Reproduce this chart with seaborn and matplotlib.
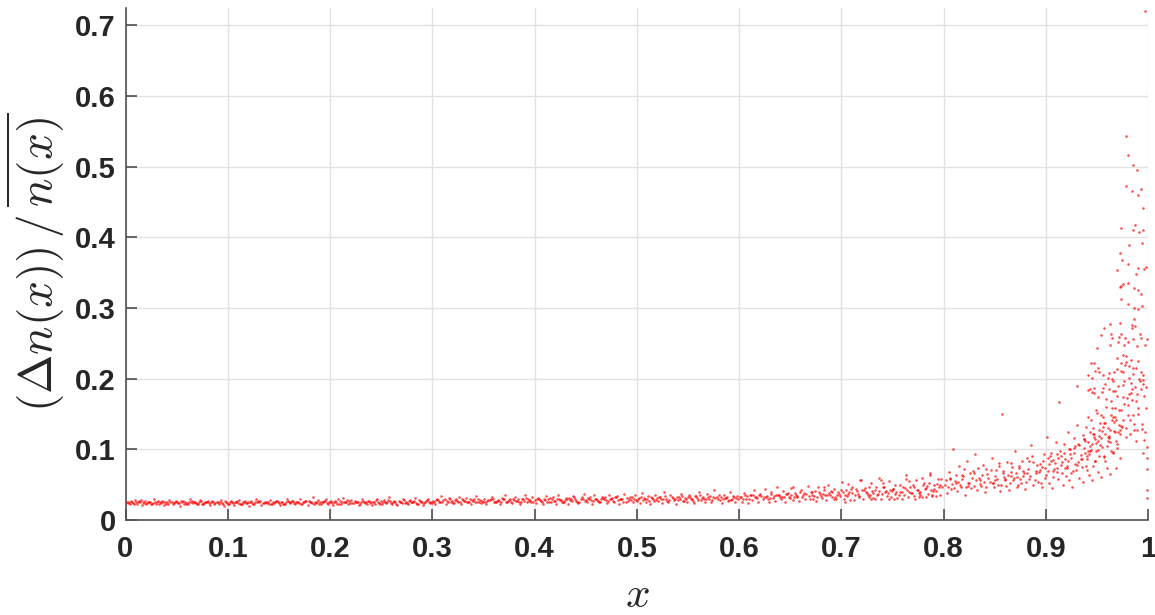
import matplotlib
matplotlib.use("Agg")
import matplotlib.pyplot as plt
import seaborn as sns
import pandas as pd

x_a = [.001,.004,.006,.009,.011,.014,.016,.019,.021,.024,.026,.028,.031,.033,.036,.038,.041,.043,.046,.048,.051,.053,.056,.058,.061,.063,.066,.068,.071,.073,.076,.078,.081,.083,.086,.088,.091,.093,.096,.098,
       .101,.103,.106,.108,.111,.113,.116,.118,.121,.123,.126,.128,.131,.133,.136,.138,.141,.143,.146,.148,.151,.153,.156,.158,.161,.163,.166,.168,.171,.173,.176,.178,.181,.183,.186,.188,.191,.193,.196,.198,
       .201,.203,.206,.208,.211,.213,.216,.218,.221,.223,.226,.228,.231,.233,.236,.238,.241,.243,.246,.248,.251,.253,.256,.258,.261,.263,.266,.268,.271,.273,.276,.278,.281,.283,.286,.288,.291,.293,.296,.298]
y_a = [.026,.022,.025,.028,.023,.026,.021,.027,.024,.026,.022,.029,.025,.023,.027,.021,.025,.028,.023,.026,.024,.020,.027,.025,.022,.029,.024,.026,.023,.028,.022,.025,.027,.021,.026,.024,.023,.028,.020,.025,
       .023,.027,.021,.025,.028,.022,.026,.024,.020,.027,.023,.029,.025,.021,.026,.024,.028,.022,.025,.027,.021,.026,.023,.030,.024,.027,.022,.025,.029,.023,.027,.021,.026,.032,.024,.028,.022,.026,.030,.023,
       .027,.021,.025,.029,.023,.031,.026,.022,.028,.024,.026,.021,.029,.025,.023,.027,.021,.026,.030,.024,.022,.028,.025,.032,.023,.027,.021,.026,.029,.024,.022,.028,.025,.031,.023,.027,.021,.026,.030,.024]
x_a2 = [.002,.005,.008,.012,.015,.018,.022,.025,.029,.032,.035,.039,.042,.045,.049,.052,.055,.059,.062,.065,.069,.072,.075,.079,.082,.085,.089,.092,.095,.099,.102,.105,.109,.112,.115,.119,.122,.125,.129,.132,.135,.139,.142,.145,.149,.152,.155,.159,.162,.165,.169,.172,.175,.179,.182,.185,.189,.192,.195,.199,
        .202,.205,.209,.212,.215,.219,.222,.225,.229,.232,.235,.239,.242,.245,.249,.252,.255,.259,.262,.265,.269,.272,.275,.279,.282,.285,.289,.292,.295,.299]
y_a2 = [.024,.027,.023,.025,.028,.024,.026,.023,.025,.027,.024,.026,.023,.025,.027,.024,.026,.023,.025,.027,.024,.026,.023,.025,.024,.027,.025,.026,.023,.024,.026,.024,.027,.023,.025,.024,.026,.023,.025,.027,.024,.026,.023,.024,.026,.025,.023,.027,.025,.024,.026,.023,.025,.027,.024,.026,.023,.025,.027,.025,
        .024,.027,.023,.026,.025,.027,.024,.026,.023,.027,.025,.024,.026,.028,.023,.026,.024,.027,.025,.023,.026,.028,.024,.025,.027,.023,.026,.024,.028,.025]
x_a3 = [.003,.007,.010,.013,.017,.020,.023,.027,.030,.034,.037,.040,.044,.047,.050,.054,.057,.060,.064,.067,.070,.074,.077,.080,.084,.087,.090,.094,.097,.100,.104,.107,.110,.114,.117,.120,.124,.127,.130,.134,.137,.140,.144,.147,.150,.154,.157,.160,.164,.167,.170,.174,.177,.180,.184,.187,.190,.194,.197,.200,
        .204,.207,.210,.214,.217,.220,.224,.227,.230,.234,.237,.240,.244,.247,.250,.254,.257,.260,.264,.267,.270,.274,.277,.280,.284,.287,.290,.294,.297,.300]
y_a3 = [.025,.024,.026,.027,.025,.023,.026,.024,.023,.026,.025,.023,.026,.024,.025,.027,.023,.024,.026,.025,.023,.027,.024,.026,.025,.023,.026,.024,.027,.023,.025,.026,.024,.023,.027,.025,.024,.026,.027,.024,.025,.023,.026,.027,.024,.023,.025,.026,.027,.025,.024,.026,.027,.025,.023,.026,.025,.027,.024,.026,
        .025,.023,.027,.025,.028,.024,.027,.025,.026,.024,.027,.025,.023,.026,.027,.025,.028,.024,.026,.027,.024,.025,.027,.026,.024,.028,.025,.027,.026,.024]

x_b = [.301,.303,.305,.307,.309,.311,.313,.316,.318,.321,.323,.326,.328,.331,.333,.336,.338,.341,.343,.346,.348,.351,.353,.356,.358,.361,.363,.366,.368,.371,.373,.376,.378,.381,.383,.386,.388,.391,.393,.396,.398,
       .401,.403,.406,.408,.411,.413,.416,.418,.421,.423,.426,.428,.431,.433,.436,.438,.441,.443,.446,.448,.451,.453,.456,.458,.461,.463,.466,.468,.471,.473,.476,.478,.481,.483,.486,.488,.491,.493,.496,.498,
       .501,.503,.505,.507,.509,.511,.513,.516,.518,.521,.523,.525,.527,.529,.531,.533,.536,.538,.541,.543,.545,.547,.549,.551,.553,.556,.558,.561,.563,.565,.567,.569,.571,.573,.576,.578,.581,.583,.585,.587,.589,.591,.593,.596,.598]
y_b = [.027,.023,.030,.025,.034,.028,.022,.031,.026,.024,.029,.033,.023,.027,.031,.025,.022,.029,.034,.026,.024,.030,.022,.028,.033,.025,.027,.023,.031,.036,.026,.029,.024,.032,.027,.022,.030,.035,.025,.028,.033,
       .024,.031,.027,.022,.034,.029,.025,.032,.023,.036,.028,.026,.031,.023,.029,.034,.027,.024,.032,.037,.026,.030,.023,.035,.028,.025,.033,.029,.024,.036,.031,.026,.034,.022,.030,.037,.027,.032,.025,.035,
       .029,.024,.038,.031,.026,.034,.023,.029,.036,.027,.032,.024,.039,.030,.026,.035,.028,.023,.033,.037,.027,.031,.025,.035,.029,.024,.034,.040,.028,.032,.025,.037,.030,.026,.042,.033,.028,.024,.036,.031,.027,.039,.029,.025,.034]
x_b2 = [.302,.306,.310,.314,.317,.320,.324,.327,.330,.334,.337,.340,.344,.347,.350,.354,.357,.360,.364,.367,.370,.374,.377,.380,.384,.387,.390,.394,.397,.400,.404,.407,.410,.414,.417,.420,.424,.427,.430,.434,.437,.440,.444,.447,.450,.454,.457,.460,.464,.467,.470,.474,.477,.480,.484,.487,.490,.494,.497,.500,
        .504,.508,.512,.515,.519,.522,.526,.530,.534,.537,.540,.544,.548,.552,.555,.559,.562,.566,.570,.574,.577,.580,.584,.588,.592,.595,.599]
y_b2 = [.026,.028,.025,.027,.029,.024,.027,.026,.028,.025,.029,.027,.026,.028,.025,.027,.029,.026,.028,.025,.029,.027,.026,.028,.030,.025,.027,.029,.026,.028,.030,.026,.028,.025,.029,.027,.030,.026,.028,.031,.027,.029,.026,.030,.028,.032,.027,.029,.026,.031,.028,.030,.027,.032,.029,.026,.031,.028,.030,.027,
        .032,.029,.027,.031,.028,.033,.029,.027,.032,.030,.028,.034,.029,.032,.027,.031,.035,.029,.033,.028,.031,.035,.030,.033,.028,.032,.030]
x_b3 = [.304,.308,.312,.315,.319,.322,.325,.329,.332,.335,.339,.342,.345,.349,.352,.355,.359,.362,.365,.369,.372,.375,.379,.382,.385,.389,.392,.395,.399,.402,.405,.409,.412,.415,.419,.422,.425,.429,.432,.435,.439,.442,.445,.449,.452,.455,.459,.462,.465,.469,.472,.475,.479,.482,.485,.489,.492,.495,.499,
        .502,.506,.510,.514,.517,.520,.524,.528,.532,.535,.539,.542,.546,.550,.554,.557,.560,.564,.568,.572,.575,.579,.582,.586,.590,.594,.597]
y_b3 = [.028,.026,.029,.025,.027,.028,.026,.029,.027,.025,.028,.026,.029,.027,.025,.028,.030,.026,.027,.029,.025,.028,.030,.027,.026,.029,.031,.027,.026,.030,.028,.029,.026,.031,.027,.029,.028,.026,.030,.028,.032,.026,.029,.027,.031,.028,.030,.027,.029,.032,.027,.030,.033,.028,.030,.026,.029,.032,.028,
        .031,.028,.030,.033,.027,.031,.029,.034,.028,.031,.033,.029,.027,.032,.030,.034,.028,.031,.029,.034,.032,.029,.033,.031,.028,.034,.031]

x_c = [.601,.603,.605,.607,.609,.611,.613,.615,.617,.619,.621,.623,.625,.627,.629,.631,.633,.635,.637,.639,.641,.643,.645,.647,.649,.651,.653,.655,.657,.659,.661,.663,.665,.667,.669,.671,.673,.675,.677,.679,.681,.683,.685,.687,.689,.691,.693,.695,.697,.699,
       .701,.703,.705,.707,.709,.711,.713,.715,.717,.719,.721,.723,.725,.727,.729,.731,.733,.735,.737,.739,.741,.743,.745,.747,.749,.751,.753,.755,.757,.759,.761,.763,.765,.767,.769,.771,.773,.775,.777,.779,.781,.783,.785,.787,.789,.791,.793,.795,.797,.799]
y_c = [.033,.026,.038,.030,.024,.036,.028,.042,.032,.025,.037,.029,.044,.034,.026,.039,.031,.027,.047,.035,.029,.041,.026,.037,.032,.045,.028,.038,.033,.027,.043,.035,.030,.048,.029,.040,.034,.027,.046,.037,.031,.042,.028,.050,.036,.032,.044,.029,.040,.034,
       .054,.030,.043,.037,.028,.047,.035,.041,.032,.057,.029,.045,.038,.033,.052,.031,.042,.036,.060,.030,.047,.039,.034,.055,.033,.044,.037,.031,.050,.040,.035,.063,.032,.046,.038,.034,.056,.042,.036,.033,.052,.045,.037,.066,.035,.049,.041,.058,.036,.046]
x_d = [.602,.606,.610,.612,.616,.618,.620,.624,.628,.631,.634,.638,.640,.644,.648,.651,.654,.657,.660,.664,.668,.671,.674,.678,.680,.684,.688,.691,.694,.698,.700,.704,.708,.711,.714,.717,.720,.724,.728,.731,.734,.737,.740,.744,.748,.751,.754,.757,.760,.764,.768,.771,.774,.777,.780,.784,.788,.791,.794,.797]
y_d = [.032,.035,.030,.035,.033,.031,.036,.033,.030,.037,.034,.036,.032,.032,.038,.036,.033,.034,.039,.038,.034,.035,.041,.040,.034,.036,.038,.039,.033,.037,.042,.036,.040,.038,.044,.034,.042,.040,.036,.038,.046,.041,.037,.041,.043,.044,.039,.040,.047,.043,.038,.046,.042,.039,.049,.048,.043,.044,.051,.050]
x_d2 = [.604,.608,.614,.622,.626,.630,.636,.642,.646,.650,.656,.662,.666,.670,.676,.682,.686,.690,.696,.702,.706,.710,.716,.722,.726,.730,.736,.742,.746,.750,.756,.762,.766,.770,.776,.782,.786,.790,.796]
y_d2 = [.030,.034,.036,.034,.032,.031,.035,.033,.037,.031,.036,.033,.037,.040,.033,.037,.035,.041,.036,.039,.034,.044,.037,.043,.035,.041,.037,.047,.038,.041,.036,.045,.040,.049,.038,.044,.052,.041,.047]
x_d3 = [.653,.672,.683,.693,.707,.712,.727,.733,.741,.747,.753,.759,.766,.772,.779,.783,.787,.793,.798,.704,.718,.729,.739,.752,.763,.776,.789]
y_d3 = [.046,.029,.046,.029,.051,.028,.047,.029,.052,.029,.050,.030,.055,.030,.060,.033,.063,.034,.058,.026,.056,.030,.056,.030,.058,.032,.034]

x_e = [.801,.803,.805,.807,.809,.811,.813,.815,.817,.819,.821,.823,.825,.827,.829,.831,.833,.835,.837,.839,.841,.843,.845,.847,.849,.851,.853,.855,.857,.859,.861,.862,.864,.866,.868,.870,.872,.874,.876,.878,.880,.882,.884,.886,.888,.890,.892,.894,.896,.898,
       .900,.901,.903,.905,.906,.908,.910,.912,.913,.915,.917,.918,.920,.922,.923,.925,.926,.928,.930,.931,.933,.934,.936,.938,.939,.941,.942,.944,.945,.947,.948,.950,.951,.953,.954,.956,.957,.959,.960,.962,.963,.965,.966,.968,.969,.971,.973,.975]
y_e = [.050,.038,.068,.044,.101,.055,.041,.076,.047,.062,.036,.083,.052,.045,.070,.093,.042,.059,.048,.078,.039,.065,.054,.088,.046,.071,.050,.041,.150,.061,.048,.082,.043,.068,.056,.098,.047,.074,.052,.062,.044,.087,.058,.106,.049,.070,.054,.079,.046,.093,
       .064,.118,.052,.084,.045,.072,.110,.058,.167,.078,.050,.095,.062,.125,.056,.088,.047,.102,.071,.135,.060,.092,.054,.112,.076,.146,.063,.099,.057,.122,.083,.152,.068,.106,.061,.132,.089,.171,.073,.116,.065,.142,.095,.158,.074,.124,.088,.131]
x_e2 = [.802,.804,.806,.808,.810,.812,.814,.816,.818,.820,.822,.824,.826,.828,.830,.832,.834,.836,.838,.840,.842,.844,.846,.848,.850,.852,.854,.856,.858,.860,.863,.865,.867,.869,.871,.873,.875,.877,.879,.881,.883,.885,.887,.889,.891,.893,.895,.897,.899,
        .902,.904,.907,.909,.911,.914,.916,.919,.921,.924,.927,.929,.932,.935,.937,.940,.943,.946,.949,.952,.955,.958,.961,.964,.967,.970]
y_e2 = [.056,.047,.060,.051,.045,.064,.054,.049,.058,.072,.046,.053,.066,.059,.048,.056,.074,.051,.063,.054,.047,.060,.071,.052,.062,.058,.080,.050,.067,.056,.064,.053,.075,.060,.067,.049,.058,.084,.066,.054,.072,.062,.091,.057,.078,.068,.052,.083,.073,
        .070,.090,.061,.081,.074,.098,.066,.086,.077,.094,.069,.104,.082,.075,.114,.086,.097,.077,.109,.091,.126,.084,.117,.098,.139,.102]
x_e3 = [.850,.858,.866,.874,.882,.888,.894,.899,.903,.907,.911,.915,.919,.922,.925,.928,.931,.934,.937,.940,.942,.945,.948,.951,.954,.957,.960,.963,.966,.969,
        .905,.912,.918,.923,.928,.933,.938,.943,.948,.953,.958,.963,.968,.973]
y_e3 = [.057,.070,.062,.077,.066,.082,.071,.060,.079,.085,.068,.090,.073,.083,.066,.095,.078,.086,.102,.071,.094,.108,.084,.099,.116,.091,.105,.128,.096,.112,
        .095,.087,.107,.101,.116,.106,.095,.125,.114,.137,.122,.110,.146,.127]
x_e4 = [.936,.939,.941,.944,.947,.949,.952,.954,.957,.959,.962,.964,.966,.968,.970,.972,.974,.976,.978,.980,.982,.984,.986,.988,.990,.941,.946,.951,.956,.961,.965,.969,.973,.977,.981,.985,.989]
y_e4 = [.120,.132,.110,.141,.118,.155,.128,.148,.137,.160,.119,.168,.146,.124,.176,.134,.155,.142,.130,.149,.121,.170,.136,.112,.158,.098,.122,.112,.146,.130,.158,.142,.122,.164,.178,.148,.127]

x_f = [.806,.812,.818,.824,.830,.836,.842,.848,.854,.860,.866,.872,.878,.884,.890,.896,.902,.907,.911,.916,.921,.924,.929,.932,.935,.937,.940,.943,.946,.949,.952,.955,.958,.961,.964,.967,.970,.972,.974,.976,.978,.980,.982,.984,.986,.988,.990,.992,.994,.996,.998,
       .943,.947,.951,.955,.958,.962,.965,.968,.971,.974,.977,.979,.981,.983,.985,.987,.989,.991,.993,.995]
y_f = [.058,.052,.064,.048,.066,.056,.072,.053,.076,.058,.080,.061,.070,.083,.067,.075,.088,.069,.093,.082,.074,.100,.079,.108,.086,.115,.091,.105,.130,.097,.119,.103,.137,.112,.148,.126,.108,.156,.133,.174,.118,.162,.141,.186,.127,.168,.150,.197,.136,.176,.158,
       .186,.180,.174,.181,.192,.186,.199,.183,.190,.211,.196,.172,.201,.179,.207,.188,.178,.199,.185,.193]

x_tail = [.9785,.9805,.9854,.9890,.9789,.9844,.9932,.9903,.9952,.9740,.9877,.9851,.9909,.9955,.9818,.9938,.9727,.9746,.9808,.9694,.9906,.9981,.9958,.9886,.9802,.9753,.9740,.9727,.9867,.9903,.9932,.9736,.9801,.9860,.9899,.9942,.9864,.9723,.9841,.9873,.9841,.9626,.9573,.9544,.9635,.9652,.9740,.9720,.9775,.9710,.9808,.9850,.9922,.9929,.9994,.9629,.9762,.9896,.9968,.9505,.9756,.9788,.9701,.9740,.9782,.9831,.9906,.9772,.9815,.9857,.9883,.9443,.9469,.9515,.9479,.9417,.9456,.9518,.9619,.9671,.9694,.9753,.9929,.9955,.9606,.9564,.9955,.9661,.9837,.9756,.9978,.9303,.9476,.9564,.9661,.9449,.9414,.9975]
y_tail = [.5436,.5167,.5021,.4950,.4724,.4658,.4686,.4596,.4412,.4134,.4167,.4096,.4073,.4101,.3884,.3913,.3776,.3677,.3625,.3531,.3564,.3578,.3550,.3479,.3347,.3333,.3314,.3290,.3281,.3253,.3191,.3125,.3059,.3003,.2979,.3031,.2847,.2791,.2758,.2743,.2720,.2767,.2715,.2616,.2630,.2578,.2630,.2592,.2569,.2522,.2522,.2555,.2635,.2573,.2564,.2479,.2479,.2465,.2479,.2427,.2333,.2314,.2295,.2215,.2239,.2262,.2248,.2192,.2178,.2154,.2145,.2220,.2220,.2154,.2102,.2046,.2008,.2097,.2083,.2097,.2135,.2097,.2097,.2055,.2008,.2055,.1980,.1970,.1933,.1909,.1885,.1895,.1862,.1862,.1829,.1805,.1833,.7200]
x_low = [.9945,.9961,.9987,.9987,.9994,.9994,.9972,.9950,.9990]
y_low = [.1287,.1131,.1037,.0716,.0424,.0315,.1250,.0950,.0880]

x_ticks = [0,.1,.2,.3,.4,.5,.6,.7,.8,.9,1]
x_tick_labels = ["0","0.1","0.2","0.3","0.4","0.5","0.6","0.7","0.8","0.9","1"]
y_ticks = [0,.1,.2,.3,.4,.5,.6,.7]
y_tick_labels = ["0","0.1","0.2","0.3","0.4","0.5","0.6","0.7"]

sns.set_theme(style="whitegrid")
plt.rcParams["font.family"] = ["Liberation Sans", "DejaVu Sans"]
plt.rcParams["mathtext.fontset"] = "cm"

all_x = x_a + x_a2 + x_a3 + x_b + x_b2 + x_b3 + x_c + x_d + x_d2 + x_d3 + x_e + x_e2 + x_e3 + x_e4 + x_f + x_tail + x_low
all_y = y_a + y_a2 + y_a3 + y_b + y_b2 + y_b3 + y_c + y_d + y_d2 + y_d3 + y_e + y_e2 + y_e3 + y_e4 + y_f + y_tail + y_low
df = pd.DataFrame({"x": all_x, "y": all_y})

W, H = 1155, 615
fig = plt.figure(figsize=(W/100, H/100), dpi=100, facecolor="white")
ax = fig.add_axes([125.5/W, 1-520/H, (1148-125.5)/W, 512/H])

sns.scatterplot(data=df, x="x", y="y", ax=ax, s=3.4, color="#ff0000", alpha=0.7,
                linewidth=0, marker="o", legend=False, zorder=3)

ax.set_xlim(0, 1)
ax.set_ylim(0, 0.7242)
ax.set_xticks(x_ticks, x_tick_labels)
ax.set_yticks(y_ticks, y_tick_labels)
ax.grid(True, color="#e2e2e2", linewidth=1.0)
ax.set_axisbelow(True)
ax.tick_params(axis="both", direction="in", length=8, width=1.1, color="#404040",
               labelsize=21, labelcolor="#262626", bottom=True, left=True)
ax.tick_params(axis="x", pad=11)
ax.tick_params(axis="y", pad=7)
for t in ax.get_xticklabels() + ax.get_yticklabels():
    t.set_fontweight("bold")
for side in ("top", "right"):
    ax.spines[side].set_visible(False)
for side in ("left", "bottom"):
    ax.spines[side].set_color("#505050")
    ax.spines[side].set_linewidth(1.2)

ax.set_xlabel("")
ax.set_ylabel("")
fig.text(637/W, 1-596/H, r"$x$", fontsize=31, color="#262626", ha="center", va="center")
fig.text(36/W, 1-262/H, r"$\left(\Delta n(x)\right)\,/\,\overline{n(x)}$", fontsize=34,
         color="#262626", ha="center", va="center", rotation=90)

fig.savefig("out.png", dpi=100)
